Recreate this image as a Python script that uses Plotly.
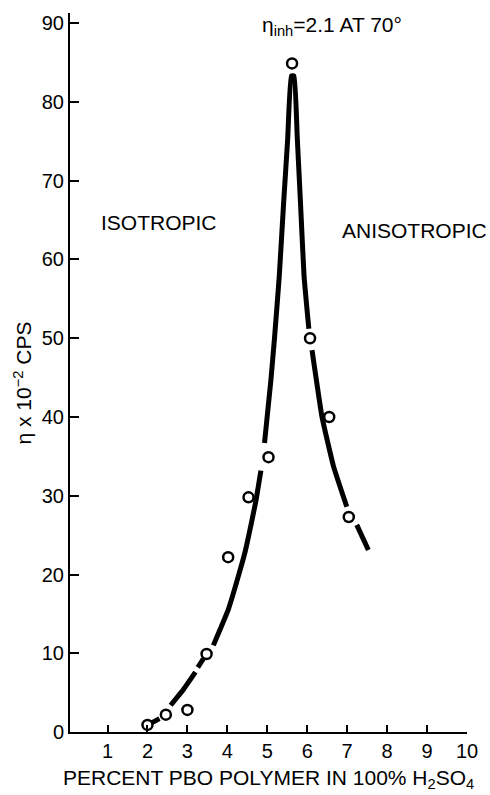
#!/usr/bin/env python3
"""
PBO viscosity plot: solution viscosity vs polymer concentration in H2SO4.
Shows the isotropic -> anisotropic transition peak.
"""
import plotly.graph_objects as go

# measured points (percent PBO, eta x 10^-2 cps)
conc = [2.0, 2.46, 3.0, 3.48, 4.02, 4.53, 5.03, 5.62, 6.07, 6.55, 7.04]
visc = [0.9, 2.2, 2.8, 9.9, 22.2, 29.8, 34.9, 84.9, 50.0, 40.0, 27.3]

# hand drawn curve, None = break in the pen stroke
curve_x = [2.08, 2.3, None,
           2.58, 2.9, 3.2, None,
           3.26, 3.4, None,
           3.65, 4.02, 4.27, 4.45, 4.6, 4.72, 4.84, None,
           4.93, 5.09, 5.18, 5.30, 5.41, 5.51, 5.60, 5.67, 5.75, 5.83, 5.92, 6.04, None,
           6.12, 6.37, 6.66, 6.99, None,
           7.24, 7.53]
curve_y = [1.1, 1.7, None,
           3.4, 5.4, 7.6, None,
           8.2, 9.3, None,
           11.0, 15.5, 19.7, 23.0, 26.5, 29.5, 33.2, None,
           36.7, 44.7, 50.0, 57.9, 67.3, 75.3, 83.3, 83.3, 75.5, 67.3, 57.9, 51.2, None,
           48.5, 40.0, 33.7, 28.6, None,
           26.3, 23.1]

x_ticks = [1, 2, 3, 4, 5, 6, 7, 8, 9, 10]
y_ticks = [0, 10, 20, 30, 40, 50, 60, 70, 80, 90]

FONT = "Liberation Sans, Arial, Helvetica, sans-serif"


def build_figure():
    fig = go.Figure()

    fig.add_trace(go.Scatter(
        x=curve_x, y=curve_y, mode='lines',
        line=dict(color='black', width=5, shape='spline', smoothing=0.35),
        connectgaps=False, showlegend=False, hoverinfo='skip'
    ))

    fig.add_trace(go.Scatter(
        x=conc, y=visc, mode='markers',
        marker=dict(symbol='circle', size=10, color='white',
                    line=dict(color='black', width=2.5)),
        cliponaxis=False, showlegend=False
    ))

    tick_font = dict(family=FONT, size=20, color='black')
    fig.update_xaxes(
        range=[0.06, 10], tickvals=x_ticks,
        ticks='inside', ticklen=7, tickwidth=2, tickcolor='black',
        showline=True, linecolor='black', linewidth=2,
        showgrid=False, zeroline=False, tickfont=tick_font
    )
    fig.update_yaxes(
        range=[0, 91.3], tickvals=y_ticks,
        ticks='inside', ticklen=9, tickwidth=2, tickcolor='black',
        showline=True, linecolor='black', linewidth=2,
        showgrid=False, zeroline=False, tickfont=tick_font
    )

    text_font = dict(family=FONT, size=21, color='black')
    annotations = [
        dict(x=2.29, y=64.7, text="ISOTROPIC", showarrow=False,
             xanchor='center', yanchor='middle', font=text_font),
        dict(x=6.82, y=63.7, text="ANISOTROPIC", showarrow=False,
             xanchor='left', yanchor='middle', font=text_font),
        dict(x=4.82, y=89.6, text="η<sub>inh</sub>=2.1 AT 70°", showarrow=False,
             xanchor='left', yanchor='middle', font=text_font),
        # axis titles placed by hand
        dict(x=0.5, y=0, xref='paper', yref='paper', yshift=-47,
             text="PERCENT PBO POLYMER IN 100% H<sub>2</sub>SO<sub>4</sub>",
             showarrow=False, xanchor='center', yanchor='middle', font=text_font),
        dict(x=0, y=0.5, xref='paper', yref='paper', xshift=-48, yshift=-11,
             text="η x 10<sup>−2</sup> CPS", textangle=-90,
             showarrow=False, xanchor='center', yanchor='middle', font=text_font),
    ]

    fig.update_layout(
        width=490, height=795,
        margin=dict(l=70, r=18, t=13, b=63),
        paper_bgcolor='white', plot_bgcolor='white',
        annotations=annotations,
        showlegend=False
    )
    return fig


def main():
    fig = build_figure()
    # drop the default 8px body margin so the figure fills the window
    fig.write_html("out.html", config={'displayModeBar': False},
                   post_script="document.body.style.margin='0';")
    print("wrote out.html")


if __name__ == '__main__':
    main()
